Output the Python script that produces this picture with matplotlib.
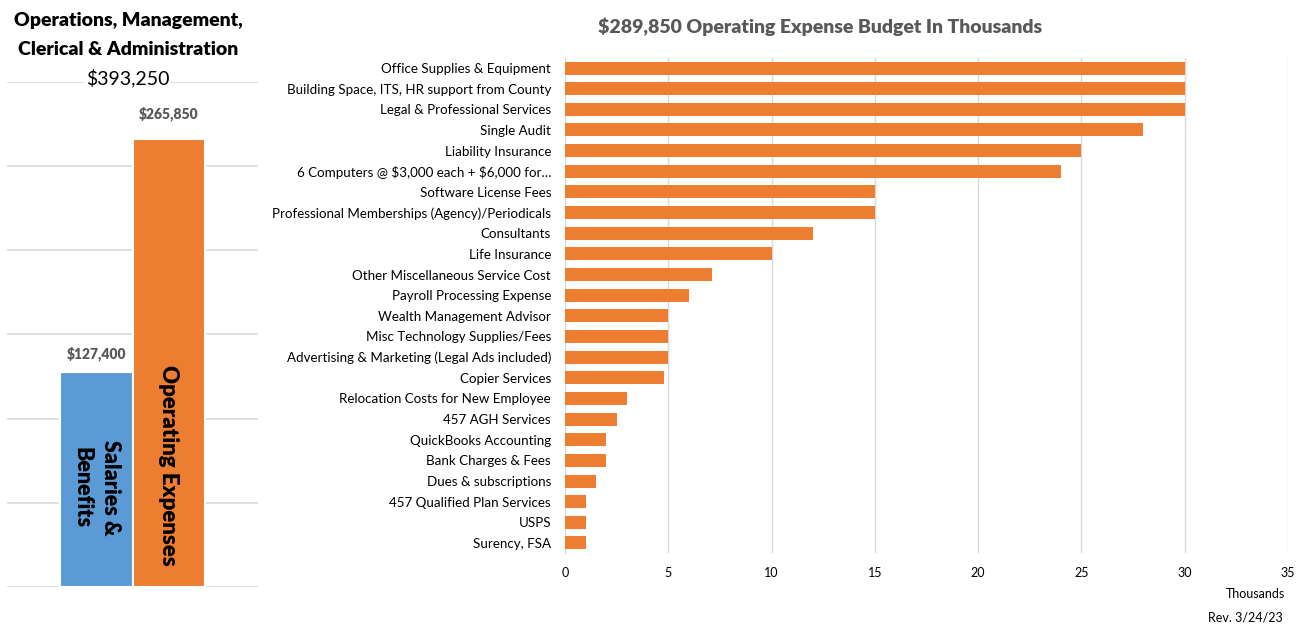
import matplotlib
matplotlib.use("Agg")
import matplotlib.pyplot as plt

plt.rcParams['font.family'] = ['Lato', 'DejaVu Sans']

# left panel: totals
group_names = ["Salaries &\nBenefits", "Operating Expenses"]
group_values = [127400, 265850]
group_labels = ["$127,400", "$265,850"]
group_colors = ["#5b9bd5", "#ed7d31"]

# right panel: operating expense items (thousands)
items = [
    "Office Supplies & Equipment",
    "Building Space, ITS, HR support from County",
    "Legal & Professional Services",
    "Single Audit",
    "Liability Insurance",
    "6 Computers @ \\$3,000 each + \\$6,000 for\u2026",
    "Software License Fees",
    "Professional Memberships (Agency)/Periodicals",
    "Consultants",
    "Life Insurance",
    "Other Miscellaneous Service Cost",
    "Payroll Processing Expense",
    "Wealth Management Advisor",
    "Misc Technology Supplies/Fees",
    "Advertising & Marketing (Legal Ads included)",
    "Copier Services",
    "Relocation Costs for New Employee",
    "457 AGH Services",
    "QuickBooks Accounting",
    "Bank Charges & Fees",
    "Dues & subscriptions",
    "457 Qualified Plan Services",
    "USPS",
    "Surency, FSA",
]
item_values = [30, 30, 30, 28, 25, 24, 15, 15, 12, 10, 7.1, 6, 5, 5, 5, 4.8,
               3, 2.5, 2, 2, 1.5, 1, 1, 1]

W, H = 1306, 624
fig = plt.figure(figsize=(W / 100, H / 100), dpi=100)

grid_col = "#d9d9d9"
orange = "#ed7d31"

# ---- left panel ----
axl = fig.add_axes([7 / W, (H - 587) / H, 251 / W, (587 - 81.5) / H])
pos = [0, 1]
axl.bar(pos, group_values, width=1.0, color=group_colors, edgecolor="white",
        linewidth=1.5, zorder=3)
axl.set_xlim(-1.243, 2.243)
axl.set_ylim(0, 300000)
axl.set_yticks(range(0, 300001, 50000))
axl.yaxis.grid(True, color=grid_col, linewidth=1.2)
axl.set_axisbelow(True)
axl.tick_params(left=False, bottom=False, labelleft=False, labelbottom=False)
for s in axl.spines.values():
    s.set_visible(False)

for p, v, lab in zip(pos, group_values, group_labels):
    axl.text(p, v + 6500 if p == 0 else v + 10500, lab, ha="center", va="bottom",
             fontsize=10, fontweight="heavy", color="#595959")

axl.text(0, 59000, group_names[0], rotation=-90, ha="center", va="center",
         fontsize=15.5, fontweight="heavy", color="black", linespacing=1.45)
axl.text(1, 72000, group_names[1], rotation=-90, ha="center", va="center",
         fontsize=16, fontweight="heavy", color="black")

fig.text(128 / W, 1 - 35 / H, "Operations, Management,\nClerical & Administration",
         ha="center", va="center", fontsize=14, fontweight="heavy",
         linespacing=1.8)
fig.text(128 / W, 1 - 78 / H, "$393,250", ha="center", va="center",
         fontsize=14, color="black",
         bbox=dict(facecolor="white", edgecolor="none", pad=1))

# ---- right panel ----
axr = fig.add_axes([565 / W, (H - 553.3) / H, (1288 - 565) / W, (553.3 - 57.7) / H])
ypos = list(range(len(items)))
axr.barh(ypos, item_values, height=0.63, color=orange, zorder=3)
axr.set_xlim(0, 35)
axr.set_ylim(len(items) - 0.5, -0.5)
axr.set_yticks(ypos)
axr.set_yticklabels(items, fontsize=9.6, color="black")
axr.set_xticks(range(0, 36, 5))
axr.tick_params(axis="x", length=0, labelsize=9, pad=10, colors="black")
axr.tick_params(axis="y", length=0, pad=10)
axr.xaxis.grid(True, color=grid_col, linewidth=1.0)
axr.set_axisbelow(True)
for name, s in axr.spines.items():
    s.set_visible(name == "left")
axr.spines["left"].set_color(grid_col)

fig.text(820 / W, 1 - 27 / H, "$289,850 Operating Expense Budget In Thousands",
         ha="center", va="center", fontsize=14, fontweight="heavy", color="#595959")
fig.text(1285 / W, 1 - 594 / H, "Thousands", ha="right", va="center", fontsize=9)
fig.text(1283 / W, 1 - 618 / H, "Rev. 3/24/23", ha="right", va="center", fontsize=9)

fig.savefig("out.png", dpi=100)
